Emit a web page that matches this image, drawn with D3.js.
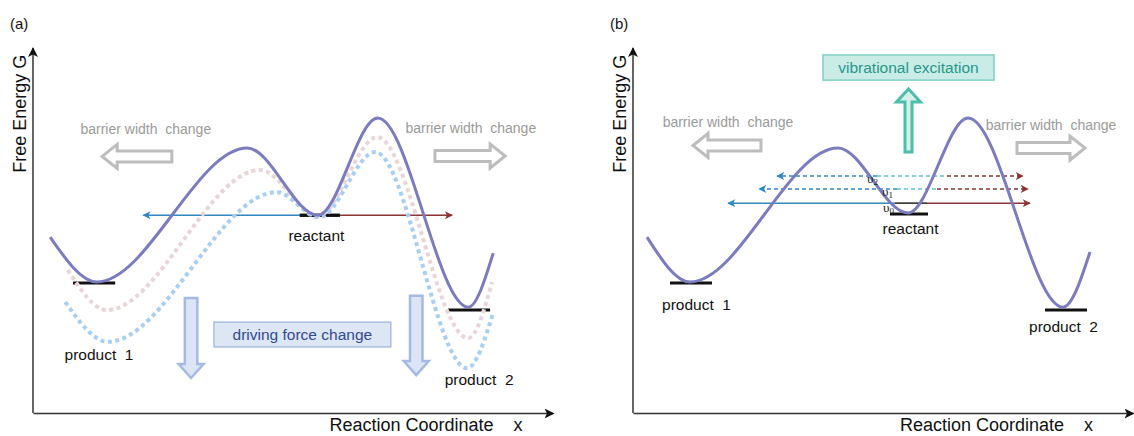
<!DOCTYPE html>
<html><head><meta charset="utf-8">
<script src="https://cdn.jsdelivr.net/npm/d3@7"></script>
<style>
body{margin:0;background:#fff}
svg{display:block}
text{font-family:"Liberation Sans",Arial,Helvetica,sans-serif}
</style>
</head><body>
<svg id="c" width="1134" height="436"></svg>
<script>
// ---------- data (x: reaction coordinate 0..10, G: free energy 0..10) ----------
const panelLabels = ["(a)", "(b)"];
const yAxisTitle = "Free Energy G";
const xAxisTitle = "Reaction Coordinate    x";

// panel (a) curves
const aSolid  = [[0.33,4.82],[1.23,3.59],[4.12,7.26],[5.48,5.42],[6.63,8.08],[8.37,2.90],[8.85,4.38]];
const aPink   = [[0.67,3.92],[1.42,2.82],[4.37,6.66],[5.48,5.40],[6.62,7.56],[8.37,2.05],[8.83,3.59]];
const aBlue   = [[0.62,3.04],[1.44,1.95],[4.69,6.05],[5.50,5.36],[6.58,7.15],[8.35,1.23],[8.85,2.74]];
// panel (a) states: [xStart, xEnd, G]
const aStates = [[0.77,1.58,3.56],[7.98,8.79,2.82],[5.13,5.90,5.42]];
const aStateNames = ["product  1","product  2","reactant"];
const aStateLabelPos = [[1.27,1.45],[8.58,0.77],[5.45,4.71]];
// tunnelling line of (a): [leftEnd, split, rightEnd, G]
const aLevel = [2.12, 5.48, 8.06, 5.42];

// panel (b) curve
const bSolid  = [[0.28,4.82],[1.14,3.59],[4.10,7.26],[5.50,5.48],[6.70,8.08],[8.60,2.90],[9.14,4.41]];
const bStates = [[0.74,1.58,3.56],[8.24,9.08,2.82],[5.14,5.90,5.45]];
const bStateNames = ["product  1","product  2","reactant"];
const bStateLabelPos = [[1.27,2.82],[8.61,2.22],[5.55,4.90]];
// vibrational levels
const levelIndex   = ["0","1","2"];
const levelG       = [5.75, 6.14, 6.49];
const levelLeftEnd = [1.90, 2.52, 2.88];
const levelWellL   = [5.24, 5.28, 4.88];
const levelWellR   = [5.88, 6.08, 6.28];
const levelRightEnd= [7.94, 7.90, 7.80];
const levelLabelPos= [[5.00,5.507],[4.98,5.945],[4.68,6.30]];

// annotations
const widthText = "barrier width  change";
const aWidthArrows = [[2.67,1.33,7.03],[7.73,9.08,7.04]];     // [tailX, tipX, G]
const aWidthTextPos = [[2.17,7.64],[8.42,7.67]];
const bWidthArrows = [[2.56,1.20,7.33],[7.68,9.04,7.26]];
const bWidthTextPos = [[1.90,7.84],[8.36,7.75]];
const aDriveArrows = [[3.04,3.15,0.96],[7.37,3.21,1.04]];     // [x, tailG, tipG]
const aDriveBox = [3.48,6.88,1.81,2.49];                     // [x0,x1,G0,G1]
const driveText = "driving force change";
const bVibArrow = [5.51,7.15,8.88];
const bVibBox = [3.80,7.22,9.12,9.81];
const vibText = "vibrational excitation";

// ---------- drawing ----------
const svg = d3.select("#c");
const yS = d3.scaleLinear([0,10],[413,48]);
const xA = d3.scaleLinear([0,10],[33,553]);
const xB = d3.scaleLinear([0,10],[633,1133]);

const C = {
  purple:"#7b7bbf", pink:"#e9d5d7", lblue:"#a8cff3",
  blue:"#2f88c4", red:"#8c3434", teal:"#5cc8c8", axis:"#333"
};

const defs = svg.append("defs");
function marker(id, color, w, h){
  defs.append("marker").attr("id",id).attr("viewBox","0 0 10 10")
    .attr("refX",9).attr("refY",5).attr("markerUnits","userSpaceOnUse")
    .attr("markerWidth",w).attr("markerHeight",h).attr("orient","auto")
    .append("path").attr("d","M0,0L10,5L0,10L2.5,5Z").attr("fill",color);
}
marker("mAxis", "#111", 10, 10);
marker("mBlue", C.blue, 11, 8);
marker("mRed", C.red, 11, 8);

function blockArrow(g, x0,y0,x1,y1, shaftW, headW, headL, fill, stroke, sw){
  const dx=x1-x0, dy=y1-y0, L=Math.hypot(dx,dy), ux=dx/L, uy=dy/L, px=-uy, py=ux;
  const bx=x1-ux*headL, by=y1-uy*headL;
  const pts=[[x0+px*shaftW/2,y0+py*shaftW/2],[bx+px*shaftW/2,by+py*shaftW/2],
    [bx+px*headW/2,by+py*headW/2],[x1,y1],[bx-px*headW/2,by-py*headW/2],
    [bx-px*shaftW/2,by-py*shaftW/2],[x0-px*shaftW/2,y0-py*shaftW/2]];
  g.append("path").attr("d",d3.line()(pts)+"Z").attr("fill",fill)
    .attr("stroke",stroke).attr("stroke-width",sw).attr("stroke-linejoin","miter");
}

function drawAxes(x, labelX0, label){
  const g = svg.append("g");
  const ax = g.append("g").attr("transform",`translate(0,${yS(0)})`)
    .call(d3.axisBottom(x).tickValues([]).tickSizeOuter(0));
  ax.select(".domain").attr("stroke",C.axis).attr("stroke-width",1.5).attr("marker-end","url(#mAxis)");
  const ay = g.append("g").attr("transform",`translate(${x(0)},0)`)
    .call(d3.axisLeft(yS).tickValues([]).tickSizeOuter(0));
  ay.select(".domain").attr("d",`M0,${yS(0)}V${yS(10)}`)
    .attr("stroke",C.axis).attr("stroke-width",1.5).attr("marker-end","url(#mAxis)");
  g.append("text").attr("transform",`translate(${x(0)-7},${yS(8.2)}) rotate(-90)`)
    .attr("text-anchor","middle").attr("font-size",18).attr("fill","#111").text(yAxisTitle);
  g.append("text").attr("x",labelX0).attr("y",431).attr("font-size",18)
    .attr("fill","#111").style("white-space","pre").text(xAxisTitle);
  g.append("text").attr("x",x(0)-23).attr("y",29).attr("font-size",15).attr("fill","#111").text(label);
}

function curve(x){
  return d3.line().x(d=>x(d[0])).y(d=>yS(d[1])).curve(d3.curveMonotoneX);
}

// ===== Panel (a) =====
drawAxes(xA, xA(5.7), panelLabels[0]);
{
  const g = svg.append("g");
  aWidthArrows.forEach(d=>blockArrow(g, xA(d[0]),yS(d[2]), xA(d[1]),yS(d[2]), 11,24,15,"#fff","#bdbdbd",3));
  aWidthTextPos.forEach(d=>g.append("text").attr("x",xA(d[0])).attr("y",yS(d[1]))
    .attr("text-anchor","middle").attr("font-size",14).attr("fill","#9a9a9a")
    .style("white-space","pre").text(widthText));
  aDriveArrows.forEach(d=>blockArrow(g, xA(d[0]),yS(d[1]), xA(d[0]),yS(d[2]), 12.5,25,14,"#dce5f5","#a4bae2",2.5));
  g.append("rect").attr("x",xA(aDriveBox[0])).attr("y",yS(aDriveBox[3]))
    .attr("width",xA(aDriveBox[1])-xA(aDriveBox[0])).attr("height",yS(aDriveBox[2])-yS(aDriveBox[3]))
    .attr("fill","#dde6f5").attr("stroke","#a9bde2").attr("stroke-width",1.5);
  g.append("text").attr("x",(xA(aDriveBox[0])+xA(aDriveBox[1]))/2).attr("y",(yS(aDriveBox[2])+yS(aDriveBox[3]))/2+5.5)
    .attr("text-anchor","middle").attr("font-size",15.5).attr("fill","#33498f").text(driveText);

  aStates.forEach(d=>g.append("line").attr("x1",xA(d[0])).attr("x2",xA(d[1]))
    .attr("y1",yS(d[2])).attr("y2",yS(d[2])).attr("stroke","#111").attr("stroke-width",3));
  g.append("line").attr("x1",xA(aLevel[1])).attr("x2",xA(aLevel[0])).attr("y1",yS(aLevel[3])).attr("y2",yS(aLevel[3]))
    .attr("stroke",C.blue).attr("stroke-width",1.5).attr("marker-end","url(#mBlue)");
  g.append("line").attr("x1",xA(aLevel[1])).attr("x2",xA(aLevel[2])).attr("y1",yS(aLevel[3])).attr("y2",yS(aLevel[3]))
    .attr("stroke",C.red).attr("stroke-width",1.5).attr("marker-end","url(#mRed)");
  g.append("line").attr("x1",xA(aStates[2][0])).attr("x2",xA(aStates[2][1]))
    .attr("y1",yS(aStates[2][2])).attr("y2",yS(aStates[2][2])).attr("stroke","#111").attr("stroke-width",3);

  [[aPink,C.pink],[aBlue,C.lblue]].forEach(([data,col])=>
    g.append("path").attr("d",curve(xA)(data)).attr("fill","none").attr("stroke",col)
      .attr("stroke-width",4).attr("stroke-dasharray","4,3.5"));
  g.append("path").attr("d",curve(xA)(aSolid)).attr("fill","none").attr("stroke",C.purple).attr("stroke-width",3);

  aStateNames.forEach((n,i)=>g.append("text").attr("x",xA(aStateLabelPos[i][0])).attr("y",yS(aStateLabelPos[i][1]))
    .attr("text-anchor","middle").attr("font-size",15.5).attr("fill","#111").style("white-space","pre").text(n));
}

// ===== Panel (b) =====
drawAxes(xB, xB(5.34), panelLabels[1]);
{
  const g = svg.append("g");
  bWidthArrows.forEach(d=>blockArrow(g, xB(d[0]),yS(d[2]), xB(d[1]),yS(d[2]), 11,24,15,"#fff","#bdbdbd",3));
  bWidthTextPos.forEach(d=>g.append("text").attr("x",xB(d[0])).attr("y",yS(d[1]))
    .attr("text-anchor","middle").attr("font-size",14).attr("fill","#9a9a9a")
    .style("white-space","pre").text(widthText));
  blockArrow(g, xB(bVibArrow[0]),yS(bVibArrow[1]), xB(bVibArrow[0]),yS(bVibArrow[2]), 7,24,13,"#d6f0ea","#4dbdac",3);
  g.append("rect").attr("x",xB(bVibBox[0])).attr("y",yS(bVibBox[3]))
    .attr("width",xB(bVibBox[1])-xB(bVibBox[0])).attr("height",yS(bVibBox[2])-yS(bVibBox[3]))
    .attr("fill","#c9ece6").attr("stroke","#7fd0c4").attr("stroke-width",1.5);
  g.append("text").attr("x",(xB(bVibBox[0])+xB(bVibBox[1]))/2).attr("y",(yS(bVibBox[2])+yS(bVibBox[3]))/2+5.5)
    .attr("text-anchor","middle").attr("font-size",15.5).attr("fill","#27978a").text(vibText);

  bStates.forEach(d=>g.append("line").attr("x1",xB(d[0])).attr("x2",xB(d[1]))
    .attr("y1",yS(d[2])).attr("y2",yS(d[2])).attr("stroke","#111").attr("stroke-width",3));

  levelG.forEach((G,i)=>{
    const y = yS(G), dash = i===0 ? null : "4,3";
    g.append("line").attr("x1",xB(levelWellL[i])).attr("x2",xB(levelLeftEnd[i])).attr("y1",y).attr("y2",y)
      .attr("stroke",C.blue).attr("stroke-width",1.5).attr("stroke-dasharray",dash).attr("marker-end","url(#mBlue)");
    g.append("line").attr("x1",xB(levelWellL[i])).attr("x2",xB(levelWellR[i])).attr("y1",y).attr("y2",y)
      .attr("stroke",i===0?"#222":C.teal).attr("stroke-width",1.5).attr("stroke-dasharray",dash);
    g.append("line").attr("x1",xB(levelWellR[i])).attr("x2",xB(levelRightEnd[i])).attr("y1",y).attr("y2",y)
      .attr("stroke",C.red).attr("stroke-width",1.5).attr("stroke-dasharray",dash).attr("marker-end","url(#mRed)");
  });

  g.append("path").attr("d",curve(xB)(bSolid)).attr("fill","none").attr("stroke",C.purple).attr("stroke-width",3);

  levelIndex.forEach((k,i)=>{
    const t = g.append("text").attr("x",xB(levelLabelPos[i][0])).attr("y",yS(levelLabelPos[i][1]))
      .attr("font-size",13).attr("fill","#222")
      .style("font-family","'Liberation Serif','DejaVu Serif',serif");
    t.append("tspan").text("υ");
    t.append("tspan").attr("font-size",9).attr("dy",2).text(k);
  });

  bStateNames.forEach((n,i)=>g.append("text").attr("x",xB(bStateLabelPos[i][0])).attr("y",yS(bStateLabelPos[i][1]))
    .attr("text-anchor","middle").attr("font-size",15.5).attr("fill","#111").style("white-space","pre").text(n));
}
</script>
</body></html>
